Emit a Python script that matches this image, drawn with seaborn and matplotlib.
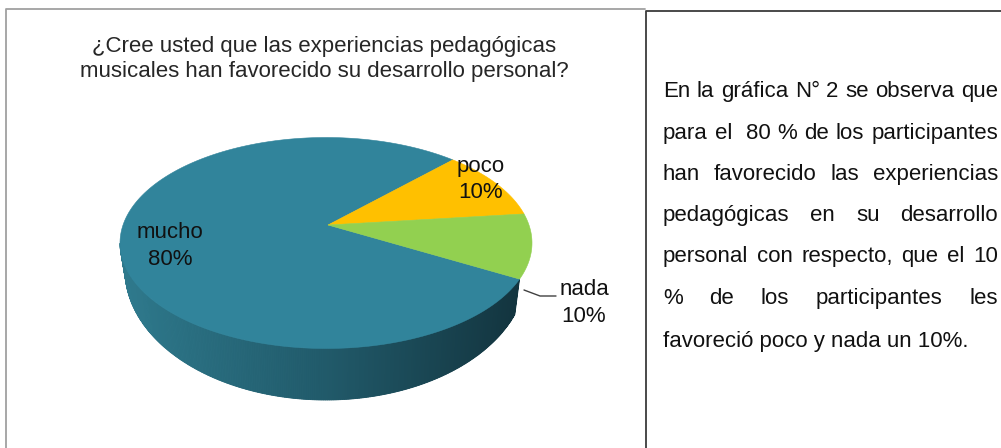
import numpy as np
import matplotlib
matplotlib.use('Agg')
import matplotlib.pyplot as plt
import seaborn as sns

# datos de la grafica
categorias = ['mucho', 'poco', 'nada']
porcentajes = [80, 10, 10]
colores = ['#31849B', '#FFC000', '#92D050']
colores_lado = [['#2f7a8d', '#215a6a', '#12323c'], ['#4a6b24', '#2f4318'], ['#4a6b24', '#2f4318']]

titulo = ['¿Cree usted que las experiencias pedagógicas',
          'musicales han favorecido su desarrollo personal?']

parrafo = ['En la gráfica N° 2 se observa que',
           'para el  80 % de los participantes',
           'han favorecido las experiencias',
           'pedagógicas en su desarrollo',
           'personal con respecto, que el 10',
           '% de los participantes les',
           'favoreció poco y nada un 10%.']

sns.set_style('white')
plt.rcParams['font.family'] = ['Liberation Sans', 'DejaVu Sans']

W, H = 1001, 448
fig = plt.figure(figsize=(W / 100, H / 100), dpi=100)
ax = fig.add_axes([0, 0, 1, 1])
ax.set_xlim(0, W)
ax.set_ylim(H, 0)
ax.axis('off')

# geometria del pastel 3D (pixeles)
cx, cy, rx, ry = 326, 243, 206, 105.5      # cara superior
bx, by, brx, bry = 326, 270, 201, 130      # borde inferior
apx, apy = 328, 225                        # vertice
inicio = 340

def arriba(t):
    return cx + rx * np.cos(np.radians(t)), cy - ry * np.sin(np.radians(t))

def abajo(t):
    return bx + brx * np.cos(np.radians(t)), by - bry * np.sin(np.radians(t))

limites = inicio - 360 * np.concatenate([[0], np.cumsum(porcentajes)]) / sum(porcentajes)

# lados (solo la parte frontal)
for i in range(len(categorias)):
    t1, t0 = limites[i], limites[i + 1]
    t1m, t0m = t1 % 360, t0 % 360
    if t0m > t1m:
        t0m -= 360
    if t1m <= 0:
        lo, hi = max(t0m, -180), t1m
    else:
        lo, hi = max(t0m, 180), min(t1m, 360)
    if hi <= lo:
        continue
    ts = np.linspace(lo, hi, 300)
    pal = sns.blend_palette(colores_lado[i], n_colors=256)
    xt, yt = arriba(ts)
    xb, yb = abajo(ts)
    ax.fill(np.r_[xt, xb[::-1]], np.r_[yt, yb[::-1]], color=pal[128], lw=0)
    for k in range(len(ts) - 1):
        xm = (xt[k] + xt[k + 1]) / 2
        f = np.clip((xm - (cx - rx)) / (2 * rx), 0, 1)
        c = pal[int(f * 255)]
        ax.fill([xt[k], xt[k + 1], xb[k + 1], xb[k]],
                [yt[k], yt[k + 1], yb[k + 1], yb[k]], color=c, lw=0.6, ec=c)

# cara superior
for i in range(len(categorias)):
    ts = np.linspace(limites[i], limites[i + 1], 200)
    xs, ys = arriba(ts)
    ax.fill(np.r_[apx, xs], np.r_[apy, ys], color=colores[i], lw=0.4, ec=colores[i])

# etiquetas
etiquetas = {'mucho': (170, 238, 265), 'poco': (481, 172, 198), 'nada': (584, 295, 322)}
for cat, val in zip(categorias, porcentajes):
    x, y1, y2 = etiquetas[cat]
    ax.text(x, y1, cat, fontsize=16, ha='center', va='baseline', color='#111111')
    ax.text(x, y2, f'{val}%', fontsize=16, ha='center', va='baseline', color='#111111')
ax.plot([524, 540, 556], [290, 296, 296], color='#404040', lw=1)

# titulo
for y, linea in zip([52, 77], titulo):
    ax.text(324, y, linea, fontsize=16, ha='center', va='baseline', color='#262626')

# bordes
ax.plot([6, 6, 645], [H + 5, 9, 9], color='#a0a0a0', lw=1.3)
ax.plot([646, 646, W + 5], [H + 5, 11, 11], color='#3c3c3c', lw=1.3)

# parrafo justificado
renderer = fig.canvas.get_renderer()
izq, der = 663, 998
bases = [97, 139, 180, 221, 262, 304, 347]

def ancho(s):
    t = ax.text(0, 0, s, fontsize=16)
    w = t.get_window_extent(renderer).width
    t.remove()
    return w

for j, (y, linea) in enumerate(zip(bases, parrafo)):
    if j == len(parrafo) - 1:
        ax.text(izq, y, linea, fontsize=16, va='baseline', color='#111111')
        continue
    palabras = linea.split(' ')
    anchos = [ancho(p) if p else 0 for p in palabras]
    hueco = (der - izq - sum(anchos)) / (len(palabras) - 1)
    x = izq
    for p, w in zip(palabras, anchos):
        if p:
            ax.text(x, y, p, fontsize=16, va='baseline', color='#111111')
        x += w + hueco

fig.savefig('out.png', dpi=100)
